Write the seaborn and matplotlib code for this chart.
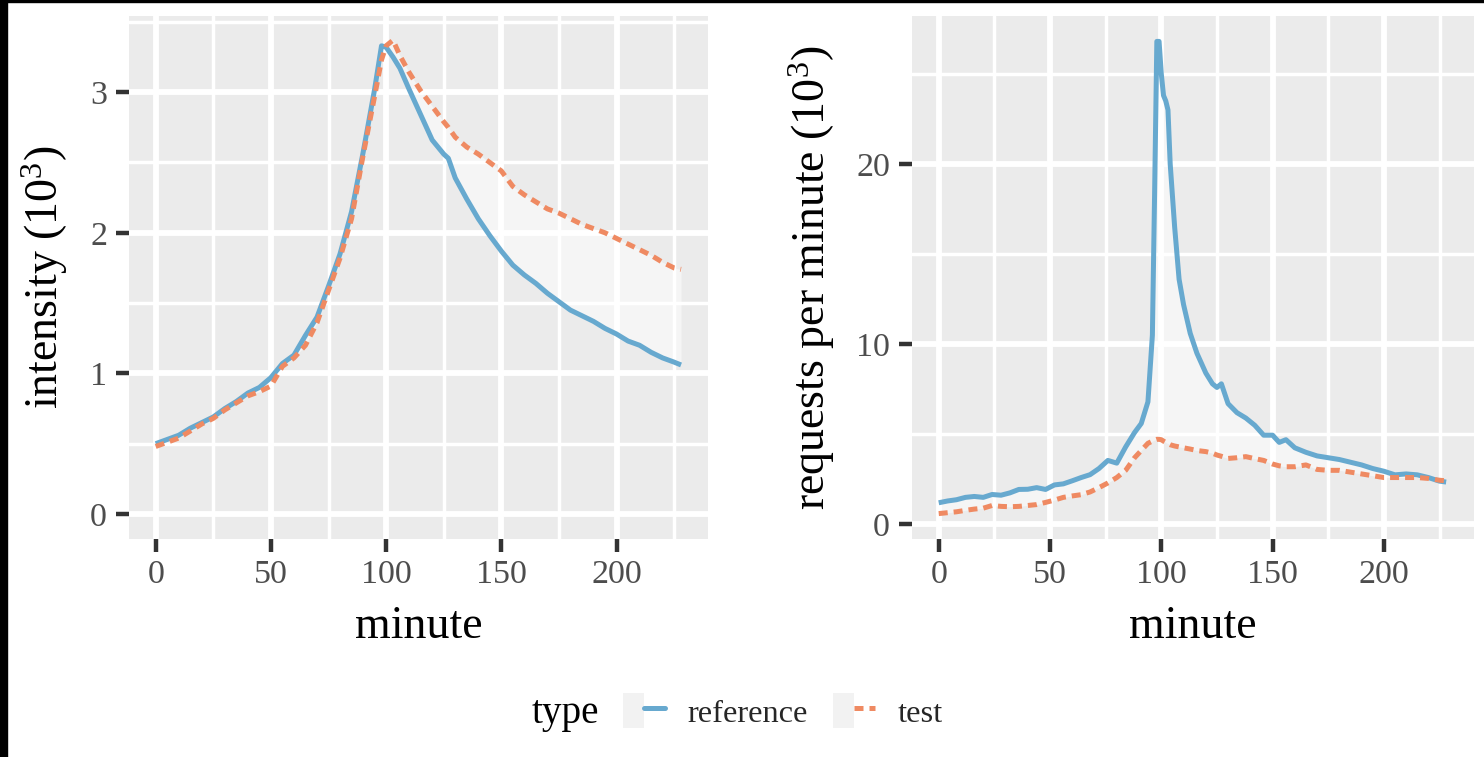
import numpy as np
import pandas as pd
import matplotlib
matplotlib.use("Agg")
import matplotlib.pyplot as plt
import seaborn as sns
from matplotlib.patches import Rectangle, Patch
from matplotlib.lines import Line2D
from matplotlib.legend_handler import HandlerTuple
from matplotlib.ticker import MultipleLocator

# ---------------- data ----------------
minute_left = [0, 5, 10, 15, 20, 25, 30, 35, 40, 45, 50, 55, 60, 65, 70, 75, 80, 85, 90, 95,
               98, 100, 103, 106, 110, 115, 120, 125, 127, 130, 135, 140, 145, 150, 155, 160,
               165, 170, 175, 180, 185, 190, 195, 200, 205, 210, 215, 220, 225, 228]
intensity_reference = [0.50, 0.53, 0.56, 0.61, 0.65, 0.69, 0.75, 0.80, 0.86, 0.90, 0.97, 1.07,
                       1.13, 1.27, 1.40, 1.62, 1.85, 2.15, 2.57, 3.02, 3.33, 3.32, 3.25, 3.17,
                       3.02, 2.84, 2.66, 2.56, 2.53, 2.39, 2.24, 2.10, 1.98, 1.87, 1.77, 1.70,
                       1.64, 1.57, 1.51, 1.45, 1.41, 1.37, 1.32, 1.28, 1.23, 1.20, 1.15, 1.11,
                       1.08, 1.06]
intensity_test = [0.48, 0.51, 0.54, 0.59, 0.64, 0.68, 0.74, 0.79, 0.84, 0.87, 0.91, 1.05, 1.11,
                  1.20, 1.36, 1.59, 1.82, 2.10, 2.55, 2.97, 3.23, 3.33, 3.37, 3.26, 3.14, 3.01,
                  2.90, 2.79, 2.75, 2.68, 2.61, 2.56, 2.50, 2.44, 2.33, 2.27, 2.22, 2.17, 2.14,
                  2.10, 2.06, 2.03, 2.00, 1.96, 1.92, 1.88, 1.84, 1.79, 1.75, 1.74]

minute_right = [0, 4, 8, 12, 16, 20, 24, 28, 32, 36, 40, 44, 48, 52, 56, 60, 64, 68, 72, 76, 80,
                84, 88, 91, 94, 96, 97, 98, 99, 100, 101, 102, 103, 104, 106, 108, 110, 113, 116,
                120, 123, 125, 127, 130, 134, 138, 142, 146, 150, 153, 156, 160, 165, 170, 175,
                180, 185, 190, 195, 200, 205, 210, 215, 220, 225, 228]
requests_reference = [1.2, 1.3, 1.37, 1.5, 1.55, 1.5, 1.66, 1.62, 1.75, 1.94, 1.95, 2.04, 1.94,
                      2.19, 2.25, 2.42, 2.6, 2.76, 3.1, 3.55, 3.4, 4.3, 5.1, 5.6, 6.8, 10.5, 18.4,
                      26.8, 26.8, 25.0, 23.8, 23.5, 23.0, 20.0, 16.5, 13.6, 12.2, 10.6, 9.5, 8.4,
                      7.8, 7.6, 7.8, 6.7, 6.2, 5.9, 5.5, 4.95, 4.95, 4.55, 4.7, 4.25, 4.0, 3.8,
                      3.7, 3.6, 3.45, 3.3, 3.1, 2.95, 2.75, 2.8, 2.75, 2.6, 2.4, 2.35]
requests_test = [0.6, 0.65, 0.7, 0.78, 0.85, 0.9, 1.05, 1.0, 0.98, 1.0, 1.05, 1.1, 1.22, 1.35,
                 1.5, 1.58, 1.65, 1.8, 2.04, 2.3, 2.6, 3.0, 3.7, 4.1, 4.5, 4.62, 4.68, 4.72, 4.72,
                 4.7, 4.62, 4.55, 4.48, 4.42, 4.35, 4.3, 4.25, 4.18, 4.1, 4.04, 3.95, 3.85, 3.78,
                 3.66, 3.7, 3.76, 3.65, 3.55, 3.35, 3.25, 3.2, 3.2, 3.3, 3.05, 3.0, 3.0, 2.9, 2.8,
                 2.7, 2.6, 2.6, 2.6, 2.6, 2.55, 2.45, 2.42]

types = ["reference", "test"]
colors = {"reference": "#67a9cf", "test": "#ef8a62"}
x_ticks = [0, 50, 100, 150, 200]

df_left = pd.DataFrame({
    "minute": minute_left * 2,
    "value": intensity_reference + intensity_test,
    "type": ["reference"] * len(minute_left) + ["test"] * len(minute_left),
})
df_right = pd.DataFrame({
    "minute": minute_right * 2,
    "value": requests_reference + requests_test,
    "type": ["reference"] * len(minute_right) + ["test"] * len(minute_right),
})

# ---------------- style ----------------
sns.set_theme(style="darkgrid")
plt.rcParams["font.family"] = ["Liberation Serif", "DejaVu Serif"]
plt.rcParams["mathtext.fontset"] = "custom"
plt.rcParams["mathtext.rm"] = "Liberation Serif"
plt.rcParams["mathtext.default"] = "regular"

W, H = 1484, 757
fig = plt.figure(figsize=(W / 100, H / 100), dpi=100)
fig.patch.set_facecolor("white")

LW = 3.6
DASH = (1.8, 1.2)
TICK_FS = 24.5
TITLE_FS = 33
GRID_MAJ = 4.2
GRID_MIN = 2.5

def px_axes(x0, x1, y0, y1):
    return fig.add_axes([x0 / W, 1 - y1 / H, (x1 - x0) / W, (y1 - y0) / H])

ax1 = px_axes(129.3, 708, 16, 539)
ax2 = px_axes(912.3, 1474, 16, 539)

panels = [
    (ax1, df_left, minute_left, intensity_reference, intensity_test,
     (-11.46, 239.7), (-0.178, 3.542), [0, 1, 2, 3], 0.5, r"intensity ($\mathregular{10^3}$)", -0.103),
    (ax2, df_right, minute_right, requests_reference, requests_test,
     (-11.87, 240.5), (-0.81, 28.21), [0, 10, 20], 5, r"requests per minute ($\mathregular{10^3}$)", -0.134),
]

for ax, df, mins, ref, tst, xl, yl, yt, yminor, ylabel, ylx in panels:
    ax.set_facecolor("#ebebeb")
    for s in ax.spines.values():
        s.set_visible(False)
    ax.fill_between(mins, ref, tst, color="white", alpha=0.5, linewidth=0, zorder=1.5)
    sns.lineplot(data=df, x="minute", y="value", hue="type", style="type",
                 palette=colors, dashes={"reference": "", "test": DASH},
                 linewidth=LW, legend=False, ax=ax, zorder=3)
    for ln in ax.lines:
        ln.set_solid_capstyle("butt")
        ln.set_dash_capstyle("butt")
        ln.set_solid_joinstyle("round")
    ax.set_xlim(*xl)
    ax.set_ylim(*yl)
    ax.set_xticks(x_ticks)
    ax.set_yticks(yt)
    ax.xaxis.set_minor_locator(MultipleLocator(25))
    ax.yaxis.set_minor_locator(MultipleLocator(yminor))
    ax.grid(which="major", color="white", linewidth=GRID_MAJ)
    ax.grid(which="minor", color="white", linewidth=GRID_MIN)
    ax.set_axisbelow(True)
    ax.tick_params(which="major", bottom=True, left=True, length=9.5, width=3.2, color="#333333",
                   labelsize=TICK_FS, labelcolor="#4d4d4d", pad=5)
    ax.tick_params(axis="y", which="major", pad=6.5)
    ax.tick_params(which="minor", length=0)
    ax.set_xlabel("minute", fontsize=TITLE_FS, color="black")
    ax.set_ylabel(ylabel, fontsize=TITLE_FS, color="black")
    ax.xaxis.set_label_coords(0.5, -0.127)
    ax.yaxis.set_label_coords(ylx, 0.5)

# ---------------- legend ----------------
key_bg = "#f2f2f2"
handles = [
    (Patch(facecolor=key_bg, edgecolor="none"), Line2D([], [], color=colors["reference"], lw=LW)),
    (Patch(facecolor=key_bg, edgecolor="none"),
     Line2D([], [], color=colors["test"], lw=LW, dashes=DASH, dash_capstyle="butt")),
]
LEG_FS = 23.4
leg = fig.legend(handles, types, loc="center left",
                 bbox_to_anchor=(623 / W, 1 - 711 / H), ncol=2, frameon=False,
                 fontsize=LEG_FS, handlelength=1.29, handleheight=1.29,
                 handletextpad=0.7, columnspacing=0.78, borderpad=0, borderaxespad=0,
                 handler_map={tuple: HandlerTuple(ndivide=None, pad=0)})
fig.text(532 / W, 1 - 723 / H, "type", fontsize=28.3, ha="left", va="baseline", color="black")

# screenshot border
fig.add_artist(Rectangle((0, 0), 7.5 / W, 1, transform=fig.transFigure, color="black", zorder=10))
fig.add_artist(Rectangle((0, 1 - 2 / H), 1, 2 / H, transform=fig.transFigure, color="black", zorder=10))

fig.savefig("out.png", dpi=100, facecolor="white")
